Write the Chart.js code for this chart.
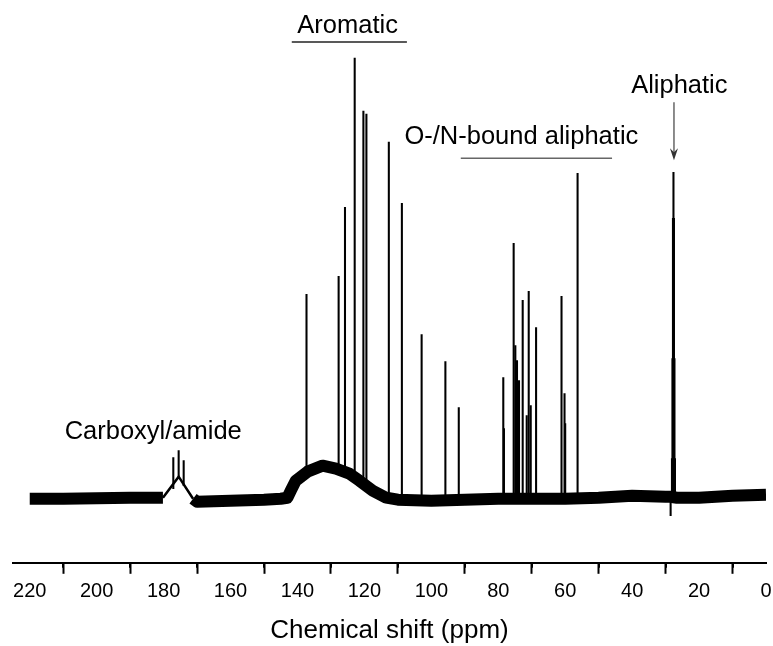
<!DOCTYPE html>
<html>
<head>
<meta charset="utf-8">
<script src="https://cdn.jsdelivr.net/npm/chart.js@4/dist/chart.umd.min.js"></script>
<style>
  body { margin: 0; background: #fff; }
  #box { width: 773px; height: 646px; }
</style>
</head>
<body>
<div id="box"><canvas id="nmr" width="773" height="646"></canvas></div>
<script>
// baseline of the spectrum (centre of the noise band), ppm -> intensity
var basePpm = [220, 210, 200, 190, 181, 180.2, 176, 171.2, 170, 165, 160, 150, 145, 143, 142, 140.5, 137, 132.5, 128.5, 124.5, 121.5, 117.5, 113.5, 110, 100, 90, 80, 70, 60, 50, 40, 30, 28.6, 26.6, 20, 10, 0];
var baseVal = [0, 0, 0.5, 1, 1, 1, null, 0, -3, -2.5, -2, -1, 0, 1, 8, 18, 27, 33, 30, 25, 18, 8, 1, -1, -2, -1, 0, 0, 0, 1, 3, 2, 2, 1, 1, 3, 4];

// carboxyl/amide hump
var humpPpm = [180.2, 175.5, 171.2];
var humpVal = [1, 22, 0];

// sharp peaks: position, top and local base
var peakPpm  = [177.1, 175.5, 174.0, 137.3, 127.7, 125.8, 122.9, 120.3, 119.4, 112.7, 108.8, 102.9, 95.8, 91.8, 78.5, 78.3, 75.4, 74.9, 74.4, 73.8, 72.7, 71.5, 70.9, 70.3, 68.7, 61.1, 60.2, 60.0, 56.3, 28.1, 27.95, 27.8, 27.65, 27.5, 27.35, 27.2, 28.5];
var peakTop  = [41, 48, 38, 204, 222, 291, 440, 387, 384, 356, 295, 164, 137, 91, 121, 70, 255, 153, 138, 118, 198, 83, 207, 93, 171, 202, 105, 75, 325, 40, 140, 280, 326, 280, 140, 40, -17];
var peakBase = [10, 22, 13, 27, 30, 28, 23, 15, 13, 0, -1, -2, -2, -1, 0, 0, 0, 0, 0, 0, 0, 0, 0, 0, 0, 0, 0, 0, 0, 2, 2, 2, 2, 2, 2, 2, 0];

// axis
var tickMajor = 20;
var tickMinor = 10;
var xTitle = "Chemical shift (ppm)";

function toPoints(xs, ys){
  var out = [];
  for (var i = 0; i < xs.length; i++) {
    out.push({x: xs[i], y: ys[i]});
  }
  return out;
}

function peakPoints(){
  var out = [];
  for (var i = 0; i < peakPpm.length; i++) {
    out.push({x: peakPpm[i], y: [peakBase[i], peakTop[i]]});
  }
  return out;
}

// minor ticks and the region labels
var extras = {
  id: 'extras',
  afterDraw: function(chart){
    var ctx = chart.ctx;
    var xs = chart.scales.x;
    var ys = chart.scales.y;
    var bottom = chart.chartArea.bottom;

    ctx.save();
    ctx.strokeStyle = '#000';
    ctx.lineWidth = 2;
    for (var v = tickMinor; v < 220; v += tickMajor) {
      var px = Math.round(xs.getPixelForValue(v));
      ctx.beginPath();
      ctx.moveTo(px, bottom);
      ctx.lineTo(px, bottom + 5);
      ctx.stroke();
    }

    ctx.fillStyle = '#000';
    ctx.font = '25.5px "Liberation Sans", Arial, sans-serif';
    ctx.textAlign = 'center';
    ctx.textBaseline = 'alphabetic';
    ctx.fillText('Aromatic', xs.getPixelForValue(125), ys.getPixelForValue(465));
    ctx.fillText('O-/N-bound aliphatic', xs.getPixelForValue(73.1), ys.getPixelForValue(354));
    ctx.fillText('Aliphatic', xs.getPixelForValue(25.9), ys.getPixelForValue(405));
    ctx.fillText('Carboxyl/amide', xs.getPixelForValue(183.1), ys.getPixelForValue(60));

    // lines under the labels
    ctx.lineWidth = 1.5;
    ctx.strokeStyle = '#222';
    var y1 = ys.getPixelForValue(456);
    ctx.beginPath();
    ctx.moveTo(xs.getPixelForValue(141.7), y1);
    ctx.lineTo(xs.getPixelForValue(107.3), y1);
    ctx.stroke();

    ctx.strokeStyle = '#666';
    var y2 = ys.getPixelForValue(340);
    ctx.beginPath();
    ctx.moveTo(xs.getPixelForValue(91.2), y2);
    ctx.lineTo(xs.getPixelForValue(46.0), y2);
    ctx.stroke();

    // arrow to the aliphatic peak
    var ax = xs.getPixelForValue(27.5);
    var ay0 = ys.getPixelForValue(396);
    var ay1 = ys.getPixelForValue(338);
    ctx.beginPath();
    ctx.moveTo(ax, ay0);
    ctx.lineTo(ax, ay1 - 4);
    ctx.stroke();
    ctx.fillStyle = '#333';
    ctx.beginPath();
    ctx.moveTo(ax, ay1);
    ctx.lineTo(ax - 4, ay1 - 12);
    ctx.lineTo(ax, ay1 - 8);
    ctx.lineTo(ax + 4, ay1 - 12);
    ctx.closePath();
    ctx.fill();
    ctx.restore();
  }
};

function drawSpectrum(){

  var ctx = document.getElementById('nmr').getContext('2d');
  var chart = new Chart(ctx, {
    type: 'bar',
    data: {
      datasets: [{
        type: 'line',
        data: toPoints(basePpm, baseVal),
        borderColor: '#000',
        borderWidth: 12,
        borderJoinStyle: 'round',
        pointRadius: 0,
        spanGaps: false,
        order: 0,
      }, {
        type: 'line',
        data: toPoints(humpPpm, humpVal),
        borderColor: '#000',
        borderWidth: 2.5,
        pointRadius: 0,
        order: 0,
      }, {
        type: 'bar',
        data: peakPoints(),
        backgroundColor: '#000',
        barThickness: 1.4,
        borderWidth: 0,
        order: 1,
      }],
    },
    options: {
      responsive: false,
      animation: false,
      layout: { padding: { left: 13, right: 7, top: 10, bottom: 0 } },
      plugins: {
        legend: { display: false },
        tooltip: { enabled: false },
      },
      scales: {
        x: {
          type: 'linear',
          reverse: true,
          min: 0,
          max: 225,
          offset: false,
          // the "0" label may hang over the edge, like the original
          afterFit: function(scale){
            scale.paddingLeft = 0;
            scale.paddingRight = 0;
          },
          border: { display: true, color: '#000', width: 2 },
          grid: { drawOnChartArea: false, tickLength: 11, tickWidth: 2, tickColor: '#000' },
          ticks: {
            stepSize: tickMajor,
            includeBounds: false,
            maxRotation: 0,
            autoSkip: false,
            padding: 6,
            color: '#000',
            font: { family: '"Liberation Sans", Arial, sans-serif', size: 20 },
          },
          title: {
            display: true,
            text: xTitle,
            color: '#000',
            padding: { top: 5, bottom: 0 },
            font: { family: '"Liberation Sans", Arial, sans-serif', size: 26 },
          },
        },
        y: {
          display: false,
          min: -64,
          max: 488,
        },
      },
    },
    plugins: [extras],
  });
}

drawSpectrum();
</script>
</body>
</html>
